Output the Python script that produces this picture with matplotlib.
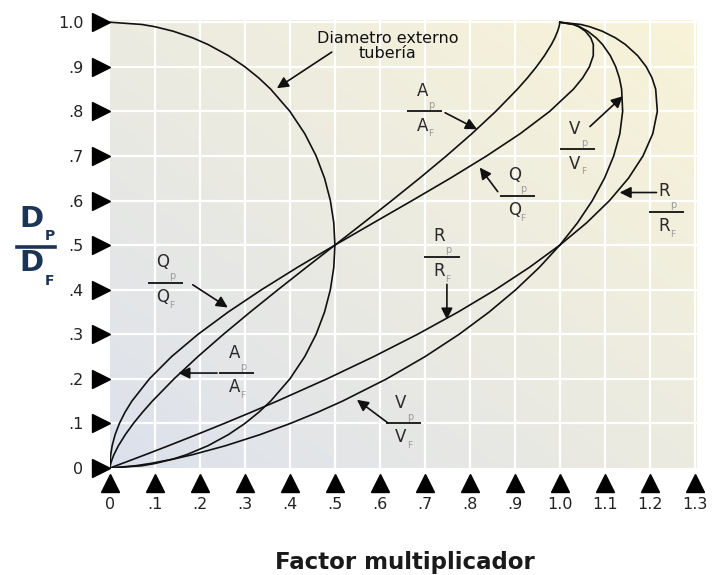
import numpy as np
import matplotlib
matplotlib.use("Agg")
import matplotlib.pyplot as plt
import matplotlib.transforms as mtransforms
from matplotlib.colors import to_rgb
from matplotlib.lines import Line2D

# Relative depth of flow D_P / D_F
depth = [0.0, 0.005, 0.01, 0.02, 0.03, 0.05, 0.075, 0.10, 0.125, 0.15, 0.20, 0.25, 0.30,
         0.35, 0.40, 0.45, 0.50, 0.55, 0.60, 0.65, 0.70, 0.75, 0.80, 0.85, 0.875,
         0.90, 0.925, 0.95, 0.965, 0.98, 0.99, 0.995, 1.0]

# Hydraulic elements (multiplying factor) at each depth
area_ratio = [0.0, 0.0006, 0.0017, 0.0048, 0.0087, 0.0187, 0.0341, 0.0520, 0.0722, 0.0941,
              0.1424, 0.1955, 0.2523, 0.3119, 0.3735, 0.4364, 0.5, 0.5636, 0.6265, 0.6881,
              0.7477, 0.8045, 0.8576, 0.9059, 0.9279, 0.9480, 0.9659, 0.9813, 0.9890,
              0.9952, 0.9983, 0.9994, 1.0]
flow_ratio = [0.0, 0.0000, 0.0002, 0.0007, 0.0016, 0.0048, 0.0114, 0.0209, 0.0333, 0.0486,
              0.0876, 0.1370, 0.1958, 0.2629, 0.3370, 0.4165, 0.5, 0.5857, 0.6718, 0.7564,
              0.8372, 0.9119, 0.9775, 1.0304, 1.0507, 1.0658, 1.0744, 1.0745, 1.0689,
              1.0567, 1.0420, 1.0302, 1.0]
velocity_ratio = [0.0, 0.0562, 0.0889, 0.1408, 0.1840, 0.2569, 0.3339, 0.4011, 0.4616, 0.5168,
                  0.6151, 0.7007, 0.7762, 0.8430, 0.9022, 0.9544, 1.0, 1.0393, 1.0724, 1.0993,
                  1.1198, 1.1335, 1.1397, 1.1374, 1.1324, 1.1243, 1.1123, 1.0950, 1.0808,
                  1.0618, 1.0437, 1.0308, 1.0]
radius_ratio = [0.0, 0.0133, 0.0265, 0.0528, 0.0789, 0.1302, 0.1929, 0.2541, 0.3136, 0.3715,
                0.4824, 0.5865, 0.6838, 0.7740, 0.8569, 0.9323, 1.0, 1.0596, 1.1106, 1.1526,
                1.1849, 1.2067, 1.2168, 1.2131, 1.2051, 1.1922, 1.1731, 1.1458, 1.1236,
                1.0941, 1.0663, 1.0466, 1.0]
pipe_outline = [0.0, 0.0705, 0.0995, 0.1400, 0.1706, 0.2179, 0.2634, 0.3000, 0.3307, 0.3571,
                0.4000, 0.4330, 0.4583, 0.4770, 0.4899, 0.4975, 0.5, 0.4975, 0.4899, 0.4770,
                0.4583, 0.4330, 0.4000, 0.3571, 0.3307, 0.3000, 0.2634, 0.2179, 0.1838,
                0.1400, 0.0995, 0.0705, 0.0]

x_ticks = [0.0, 0.1, 0.2, 0.3, 0.4, 0.5, 0.6, 0.7, 0.8, 0.9, 1.0, 1.1, 1.2, 1.3]
x_tick_labels = ["0", ".1", ".2", ".3", ".4", ".5", ".6", ".7", ".8", ".9", "1.0", "1.1", "1.2", "1.3"]
y_ticks = [0.0, 0.1, 0.2, 0.3, 0.4, 0.5, 0.6, 0.7, 0.8, 0.9, 1.0]
y_tick_labels = ["0", ".1", ".2", ".3", ".4", ".5", ".6", ".7", ".8", ".9", "1.0"]

INK = "#111111"
TEXT = "#2a2a2a"
SUB = "#9a9a9a"
NAVY = "#1b3557"

fig = plt.figure(figsize=(7.13, 5.75), dpi=100)
fig.patch.set_facecolor("white")
ax = fig.add_axes([110 / 713, 107 / 575, 587 / 713, 448 / 575])
XMAX, YMAX = 1.305, 1.005
ax.set_xlim(0, XMAX)
ax.set_ylim(0, YMAX)

# diagonal background wash: bluish grey bottom-left to cream top-right
n = 200
gx, gy = np.meshgrid(np.linspace(0, 1, n), np.linspace(0, 1, n))
t = np.clip((gx * 0.5 + gy * 0.5), 0, 1)[..., None] ** 0.8
c0 = np.array(to_rgb("#dbe0ed"))
c1 = np.array(to_rgb("#f8f3d8"))
img = c0 * (1 - t) + c1 * t
ax.imshow(img, extent=[0, XMAX, 0, YMAX], origin="lower", aspect="auto", zorder=0)

# white grid
for xv in x_ticks[1:]:
    ax.axvline(xv, color="white", lw=1.6, zorder=1)
for yv in y_ticks[1:]:
    ax.axhline(yv, color="white", lw=1.6, zorder=1)

for s in ax.spines.values():
    s.set_visible(False)

ax.set_xticks(x_ticks)
ax.set_xticklabels(x_tick_labels)
ax.set_yticks(y_ticks)
ax.set_yticklabels(y_tick_labels)
ax.tick_params(axis="both", length=0, labelsize=11.5, labelcolor="#222222")
ax.tick_params(axis="y", pad=19)
ax.tick_params(axis="x", pad=21)

# triangular tick markers outside the plotting area
tl = mtransforms.blended_transform_factory(ax.transAxes, ax.transData)
ax.plot([-0.0155] * len(y_ticks), y_ticks, ls="none", marker=">", ms=13,
        color="black", transform=tl, clip_on=False, zorder=5)
tb = mtransforms.blended_transform_factory(ax.transData, ax.transAxes)
ax.plot(x_ticks, [-0.034] * len(x_ticks), ls="none", marker="^", ms=13,
        color="black", transform=tb, clip_on=False, zorder=5)

# curves
lw = 1.2
for series in (pipe_outline, area_ratio, flow_ratio, velocity_ratio, radius_ratio):
    ax.plot(series, depth, color=INK, lw=lw, zorder=3, solid_joinstyle="round")


def off(dx, dy):
    return mtransforms.offset_copy(ax.transData, fig=fig, x=dx, y=dy, units="points")


def fraction(xc, yb, letter, half=0.039):
    ax.plot([xc - half, xc + half], [yb, yb], color=INK, lw=1.3, zorder=4,
            solid_capstyle="butt")
    ax.text(xc, yb, letter, transform=off(-2, 11), ha="center", va="baseline",
            fontsize=12, color=TEXT, zorder=4)
    ax.text(xc, yb, "p", transform=off(2.5, 2.5), ha="left", va="baseline",
            fontsize=7, color=SUB, zorder=4)
    ax.text(xc, yb, letter, transform=off(-2, -14), ha="center", va="baseline",
            fontsize=12, color=TEXT, zorder=4)
    ax.text(xc, yb, "F", transform=off(2.5, -18), ha="left", va="baseline",
            fontsize=6.5, color=SUB, zorder=4)


def pointer(start, tip):
    ax.annotate("", xy=tip, xytext=start,
                arrowprops=dict(arrowstyle="-|>", color=INK, lw=1.2,
                                mutation_scale=17, shrinkA=0, shrinkB=0),
                zorder=4)


# pipe outline label
ax.text(0.618, 0.947, "Diametro externo\ntubería", ha="center", va="center",
        fontsize=11.5, color=INK, linespacing=0.95, zorder=4)
pointer((0.493, 0.933), (0.371, 0.852))

# upper labels
fraction(0.700, 0.800, "A")
pointer((0.745, 0.797), (0.816, 0.760))
fraction(0.905, 0.611, "Q")
pointer((0.862, 0.620), (0.822, 0.674))
fraction(1.040, 0.715, "V")
pointer((1.067, 0.766), (1.140, 0.834))
fraction(1.238, 0.575, "R")
pointer((1.215, 0.618), (1.133, 0.618))

# lower labels
fraction(0.738, 0.474, "R")
pointer((0.749, 0.412), (0.749, 0.333))
fraction(0.653, 0.101, "V")
pointer((0.618, 0.101), (0.549, 0.153))
fraction(0.124, 0.416, "Q")
pointer((0.184, 0.411), (0.262, 0.360))
fraction(0.282, 0.213, "A")
pointer((0.238, 0.213), (0.152, 0.213))

# axis titles
fig.text(405 / 713, 1 - 562 / 575, "Factor multiplicador", ha="center", va="center",
         fontsize=16.5, fontweight="bold", color="#1a1a1a")

fig.text(31 / 713, 1 - 219 / 575, "D", ha="center", va="center", fontsize=21,
         fontweight="bold", color=NAVY)
fig.text(50 / 713, 1 - 236 / 575, "P", ha="center", va="center", fontsize=10,
         fontweight="bold", color=NAVY)
fig.add_artist(Line2D([17 / 713, 55 / 713], [1 - 247 / 575, 1 - 247 / 575],
                      color=NAVY, lw=2.6, transform=fig.transFigure))
fig.text(31 / 713, 1 - 263 / 575, "D", ha="center", va="center", fontsize=21,
         fontweight="bold", color=NAVY)
fig.text(49 / 713, 1 - 281 / 575, "F", ha="center", va="center", fontsize=10,
         fontweight="bold", color=NAVY)

fig.savefig("out.png", dpi=100, facecolor="white")
